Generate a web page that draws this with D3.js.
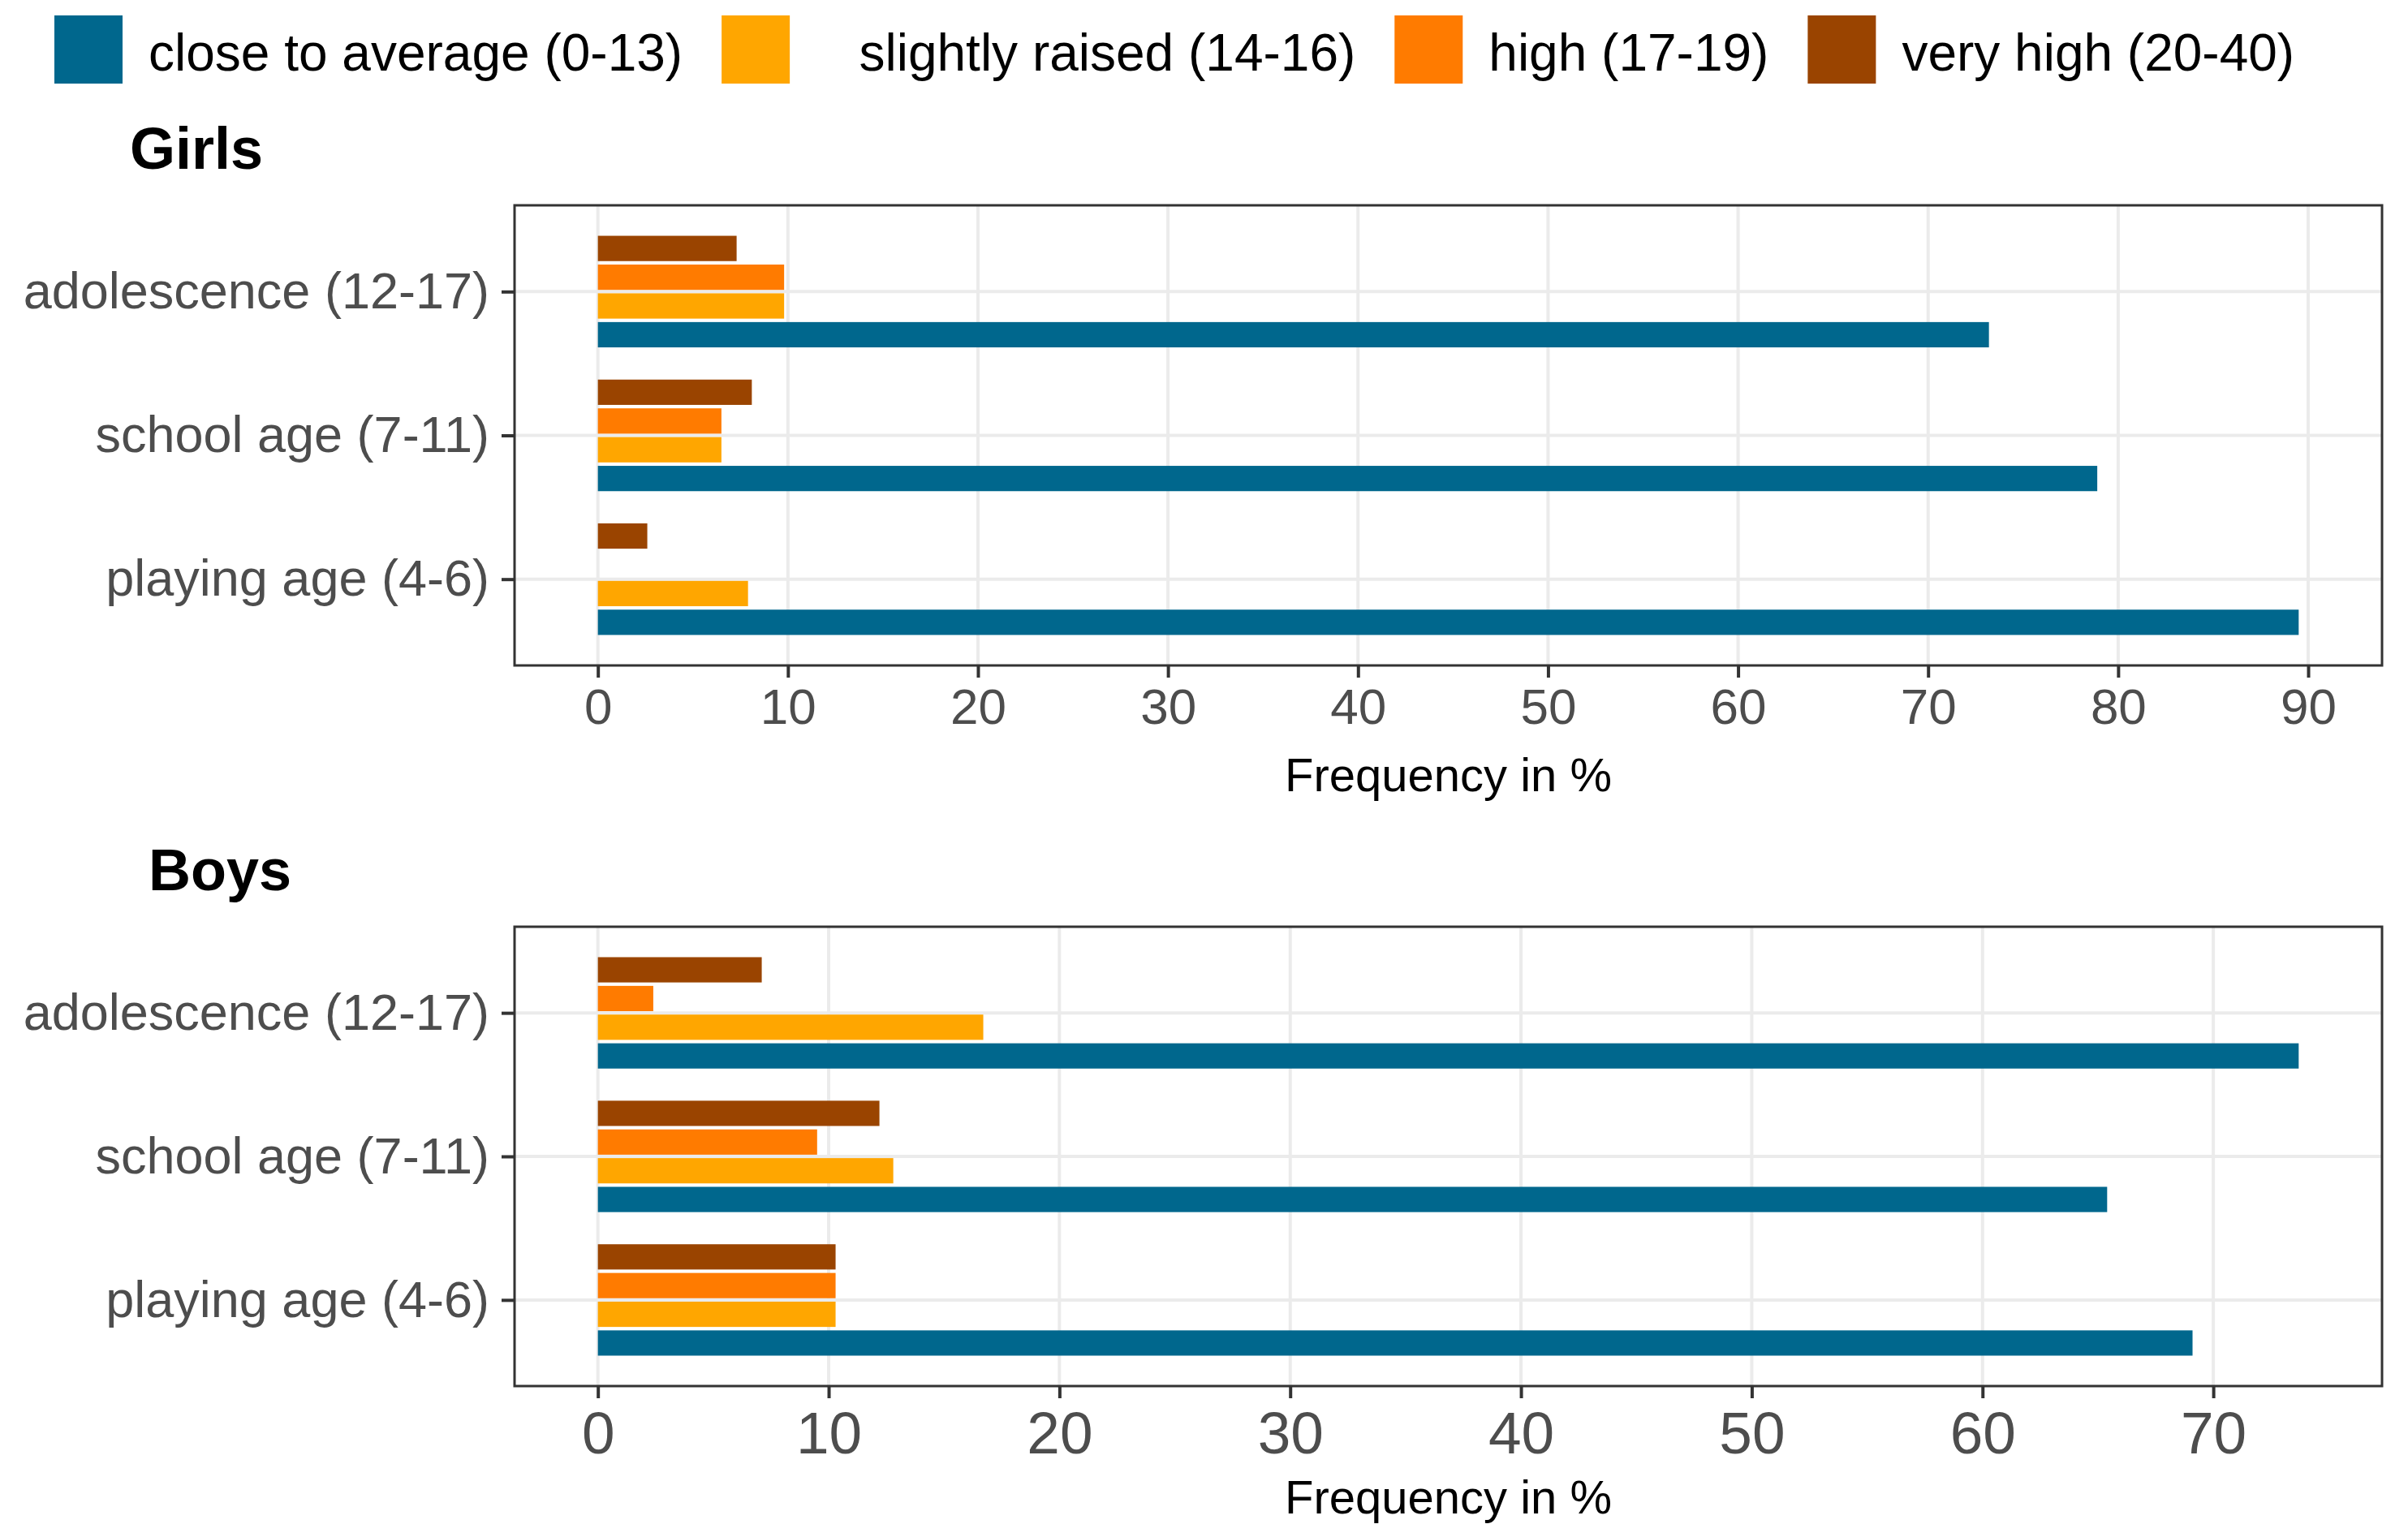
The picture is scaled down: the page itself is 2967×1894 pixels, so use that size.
<!DOCTYPE html>
<html>
<head>
<meta charset="utf-8">
<script src="https://cdn.jsdelivr.net/npm/d3@7"></script>
<style>
  body { margin: 0; background: #fff; }
  text { font-family: "Liberation Sans", Arial, sans-serif; }
</style>
</head>
<body>
<div id="chart"></div>
<script>
// categories (top to bottom) and score levels
const ageGroups = ["adolescence (12-17)", "school age (7-11)", "playing age (4-6)"]
const levels = ["close to average (0-13)", "slightly raised (14-16)", "high (17-19)", "very high (20-40)"]
const levelColors = ["#00678d", "#ffa600", "#ff7b00", "#9a4400"]

// Girls, frequency in % per age group
const girlsClose    = [73.2, 78.9, 89.5]
const girlsSlightly = [9.8, 6.5, 7.9]
const girlsHigh     = [9.8, 6.5, 0]
const girlsVeryHigh = [7.3, 8.1, 2.6]

// Boys
const boysClose    = [73.7, 65.4, 69.1]
const boysSlightly = [16.7, 12.8, 10.3]
const boysHigh     = [2.4, 9.5, 10.3]
const boysVeryHigh = [7.1, 12.2, 10.3]

const W = 2967, H = 1894

const svg = d3.select("#chart")
  .append("svg")
  .attr("width", W)
  .attr("height", H)
  .attr("viewBox", `0 0 ${W} ${H}`)

// ---------- legend ----------
const legend = svg.append("g").attr("class", "legend")
let lx = 67
levels.forEach((lab, i) => {
  legend.append("rect")
    .attr("x", lx).attr("y", 19)
    .attr("width", 84).attr("height", 84)
    .attr("fill", levelColors[i])
  const t = legend.append("text")
    .attr("x", lx + 84 + 32)
    .attr("y", 87)
    .style("font-size", "64px")
    .style("white-space", "pre")
    .attr("fill", "#000")
    .text(i == 1 ? "   " + lab : lab)
  lx = lx + 84 + 32 + t.node().getComputedTextLength() + 48
})

// ---------- one panel ----------
function drawPanel(opt) {
  const rows = ageGroups.map((g, i) => ({
    group: g,
    vals: opt.series.map((s, k) => ({ level: levels[k], color: levelColors[k], value: s[i] }))
  }))
  const maxV = d3.max(rows, r => d3.max(r.vals, v => v.value))

  const x = d3.scaleLinear()
    .domain([-maxV * 0.049, maxV * 1.049])
    .range([opt.left, opt.right])

  const y = d3.scalePoint()
    .domain(ageGroups)
    .range([opt.top, opt.bottom])
    .padding(0.6)

  const step = y.step()
  const sub = d3.scaleBand()
    .domain(levels.slice().reverse())
    .range([-0.4 * step, 0.4 * step])
    .paddingInner(0.12)
    .paddingOuter(0.06)

  const g = svg.append("g")

  // title
  g.append("text")
    .attr("x", opt.titleX)
    .attr("y", opt.titleY)
    .style("font-size", "72px")
    .style("font-weight", "bold")
    .text(opt.title)

  // grid
  const ticks = x.ticks(10)
  g.append("g").selectAll("line")
    .data(ticks).join("line")
    .attr("x1", d => x(d)).attr("x2", d => x(d))
    .attr("y1", opt.top).attr("y2", opt.bottom)
    .attr("stroke", "#ebebeb").attr("stroke-width", 4)
  g.append("g").selectAll("line")
    .data(ageGroups).join("line")
    .attr("x1", opt.left).attr("x2", opt.right)
    .attr("y1", d => y(d)).attr("y2", d => y(d))
    .attr("stroke", "#ebebeb").attr("stroke-width", 4)

  // bars
  g.append("g").selectAll("g")
    .data(rows).join("g")
    .attr("transform", d => `translate(0,${y(d.group)})`)
    .selectAll("rect")
    .data(d => d.vals.filter(v => v.value > 0))
    .join("rect")
    .attr("x", x(0))
    .attr("y", d => sub(d.level))
    .attr("width", d => x(d.value) - x(0))
    .attr("height", sub.bandwidth())
    .attr("fill", d => d.color)

  // border
  g.append("rect")
    .attr("x", opt.left).attr("y", opt.top)
    .attr("width", opt.right - opt.left)
    .attr("height", opt.bottom - opt.top)
    .attr("fill", "none")
    .attr("stroke", "#333333").attr("stroke-width", 3)

  // y axis
  const yAxis = g.append("g")
    .attr("transform", `translate(${opt.left},0)`)
    .call(d3.axisLeft(y).tickSize(16).tickPadding(15))
  yAxis.select(".domain").remove()
  yAxis.selectAll(".tick line").attr("stroke", "#333333").attr("stroke-width", 4)
  yAxis.selectAll(".tick text")
    .attr("fill", "#4d4d4d")
    .style("font-size", "63px")
    .style("font-family", "'Liberation Sans', Arial, sans-serif")

  // x axis
  const xAxis = g.append("g")
    .attr("transform", `translate(0,${opt.bottom})`)
    .call(d3.axisBottom(x).tickValues(ticks).tickSize(15).tickPadding(opt.tickPad))
  xAxis.select(".domain").remove()
  xAxis.selectAll(".tick line").attr("stroke", "#333333").attr("stroke-width", 4)
  xAxis.selectAll(".tick text")
    .attr("fill", "#4d4d4d")
    .style("font-size", opt.tickFont + "px")
    .style("font-family", "'Liberation Sans', Arial, sans-serif")

  g.append("text")
    .attr("x", (opt.left + opt.right) / 2)
    .attr("y", opt.xTitleY)
    .attr("text-anchor", "middle")
    .style("font-size", "58px")
    .text("Frequency in %")
}

drawPanel({
  title: "Girls", titleX: 160, titleY: 208,
  series: [girlsClose, girlsSlightly, girlsHigh, girlsVeryHigh],
  left: 634, right: 2935, top: 253, bottom: 820,
  tickPad: 13, tickFont: 62, xTitleY: 975
})

drawPanel({
  title: "Boys", titleX: 183, titleY: 1097,
  series: [boysClose, boysSlightly, boysHigh, boysVeryHigh],
  left: 634, right: 2935, top: 1142, bottom: 1708,
  tickPad: 16, tickFont: 73, xTitleY: 1865
})
</script>
</body>
</html>
